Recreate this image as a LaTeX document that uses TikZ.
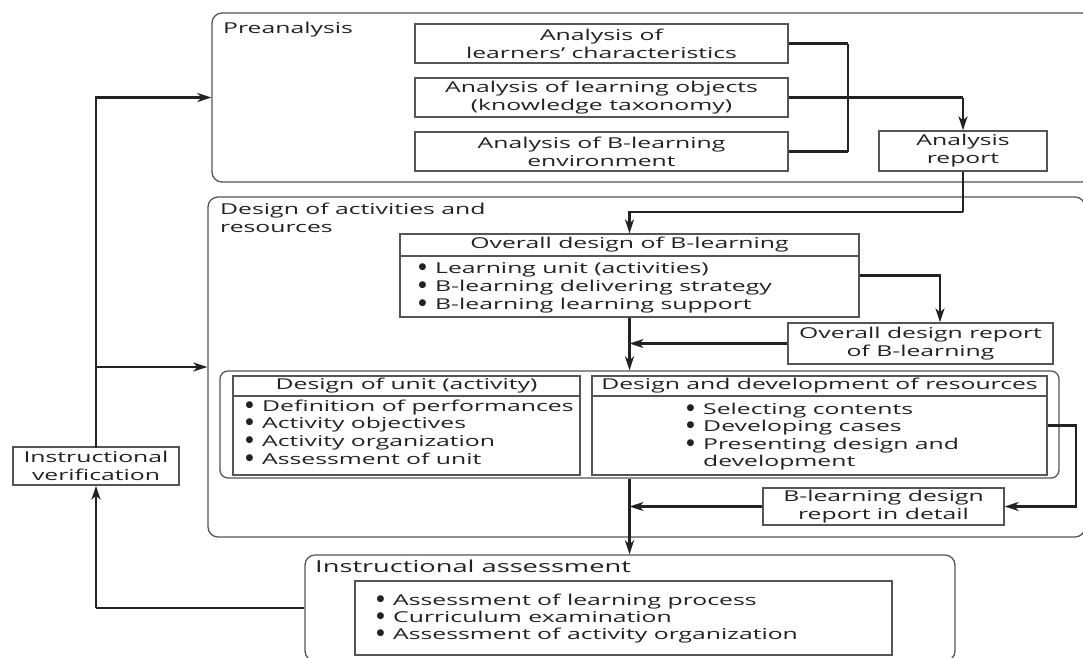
\documentclass[tikz,border=0pt]{standalone}
\usepackage{fontspec}
\setmainfont[FakeStretch=1.65]{Open Sans}
\newfontfamily\dotfont{DejaVu Sans}
\usetikzlibrary{arrows.meta}

\definecolor{ink}{HTML}{222222}
\definecolor{edge}{HTML}{555555}
% list bullet: a small filled disc, then the item text
\newcommand\itm{\makebox[16pt][l]{\hspace{-0.5pt}\raisebox{4pt}{\fontsize{9}{10}\dotfont ●}}}
\newcommand\ind{\makebox[16pt][l]{}}

\begin{document}
\begin{tikzpicture}[
  x=1pt, y=-1pt,
  font=\fontsize{15}{18}\selectfont, text=ink,
  box/.style={draw=edge, line width=1.3pt, inner sep=0pt, align=center},
  frame/.style={draw=edge, line width=1.3pt, rounded corners=10pt, inner sep=0pt},
  label/.style={inner sep=0pt, align=left, execute at begin node=\strut},
  wire/.style={draw=ink, line width=2.1pt},
  heavy/.style={draw=ink, line width=2.9pt},
  arr/.style={-{Stealth[length=14pt,width=9pt,inset=4pt]}}
]
\fill[white] (0,0) rectangle (1083,657);
\clip (0,0) rectangle (1083,657);

% ---------- outer stages ----------
\node[frame, minimum width=880, minimum height=169] (pre) at (652,97.5) {};
\node[frame, minimum width=877, minimum height=340] (des) at (646.5,367) {};
\node[frame, minimum width=650, minimum height=106] (ia) at (630,608) {};

\node[inner sep=0pt, anchor=base west] (preT) at (223,33) {Preanalysis};
\node[label, anchor=north west] (desT) at (220,202.5) {Design of activities and\\resources};
\node[inner sep=0pt, anchor=base west, font=\fontsize{16.5}{18}\selectfont] (iaT) at (315,572) {Instructional assessment};

% ---------- preanalysis ----------
\node[box, minimum width=373, minimum height=39] (A1) at (601.5,43.5) {Analysis of\\learners' characteristics};
\node[box, minimum width=373, minimum height=39] (A2) at (601.5,97.5) {Analysis of learning objects\\(knowledge taxonomy)};
\node[box, minimum width=373, minimum height=39] (A3) at (601.5,151.5) {Analysis of B-learning\\environment};
\node[box, minimum width=168, minimum height=40] (rep) at (963,151) {Analysis\\report};

% ---------- design of activities and resources ----------
\node[box, minimum width=459, minimum height=83] (od) at (629.5,275.5) {};
\draw[edge, line width=1.1pt] (400,256) -- (859,256);
\node[inner sep=0pt] (odH) at (629.5,245) {Overall design of B-learning};
\node[label, anchor=north west] (odL) at (419,262.5)
  {\itm Learning unit (activities)\\\itm B-learning delivering strategy\\\itm B-learning learning support};

\node[box, minimum width=265, minimum height=41] (odr) at (920.5,343.5) {Overall design report\\of B-learning};

\node[frame, rounded corners=8pt, minimum width=839, minimum height=107] (dd) at (639.5,424.5) {};

\node[box, minimum width=347, minimum height=99] (ub) at (406.5,425.5) {};
\draw[edge, line width=1.1pt] (233,396) -- (580,396);
\node[inner sep=0pt] (ubH) at (406.5,386) {Design of unit (activity)};
\node[label, anchor=north west, font=\fontsize{15}{17.7}\selectfont] (ubL) at (246,399.6)
  {\itm Definition of performances\\\itm Activity objectives\\\itm Activity organization\\\itm Assessment of unit};

\node[box, minimum width=455, minimum height=99] (rb) at (819.5,425.5) {};
\draw[edge, line width=1.1pt] (592,396) -- (1047,396);
\node[inner sep=0pt] (rbH) at (819.5,386) {Design and development of resources};
\node[label, anchor=north west, font=\fontsize{15}{17.3}\selectfont] (rbL) at (687,402.9)
  {\itm Selecting contents\\\itm Developing cases\\\itm Presenting design and\\\ind development};

\node[box, minimum width=241, minimum height=37] (bdr) at (883.5,506.5) {B-learning design\\report in detail};

% ---------- instructional assessment ----------
\node[box, minimum width=537, minimum height=74] (iaB) at (623.5,618) {};
\node[label, anchor=north west, font=\fontsize{15}{17}\selectfont] (iaL) at (377,594.1)
  {\itm Assessment of learning process\\\itm Curriculum examination\\\itm Assessment of activity organization};

\node[box, minimum width=166, minimum height=38] (ver) at (96,466) {Instructional\\verification};

% ---------- connectors ----------
\coordinate (c848) at (848,0);
\coordinate (c940) at (940,0);
\coordinate (c1076) at (1076,0);
\coordinate (bend) at (963,212);

\draw[wire] (A1.east) -- (A1.east -| c848);
\draw[wire] (A3.east) -- (A3.east -| c848);
\draw[heavy] (A1.east -| c848) -- (A3.east -| c848);
\draw[wire] (A2.east) -- (A2.east -| rep.north);
\draw[heavy, arr] (A2.east -| rep.north) -- (rep.north);

\draw[heavy] (rep.south) -- (bend);
\draw[wire, arr] (bend) -| (od.north);

\draw[wire, arr] (od.east) -| (c940 |- odr.north);
\draw[heavy, arr] (od.south) -- (od.south |- dd.north);
\draw[wire, arr] (odr.west) -- (odr.west -| od.south);

\draw[wire, arr] (rb.east) -- (c1076 |- rb.east) |- (bdr.east);
\draw[wire, arr] (bdr.west) -- (bdr.west -| od.south);
\draw[heavy, arr] (od.south |- dd.south) -- (od.south |- ia.north);

\draw[wire] (ia.west) -- (ia.west -| ver.south);
\draw[heavy, arr] (ia.west -| ver.south) -- (ver.south);
\draw[heavy, line cap=rect] (ver.north) -- (ver.north |- pre.west);
\draw[wire, arr] (ver.north |- pre.west) -- (pre.west);
\draw[wire, arr] (ver.north |- des.west) -- (des.west);
\end{tikzpicture}
\end{document}
